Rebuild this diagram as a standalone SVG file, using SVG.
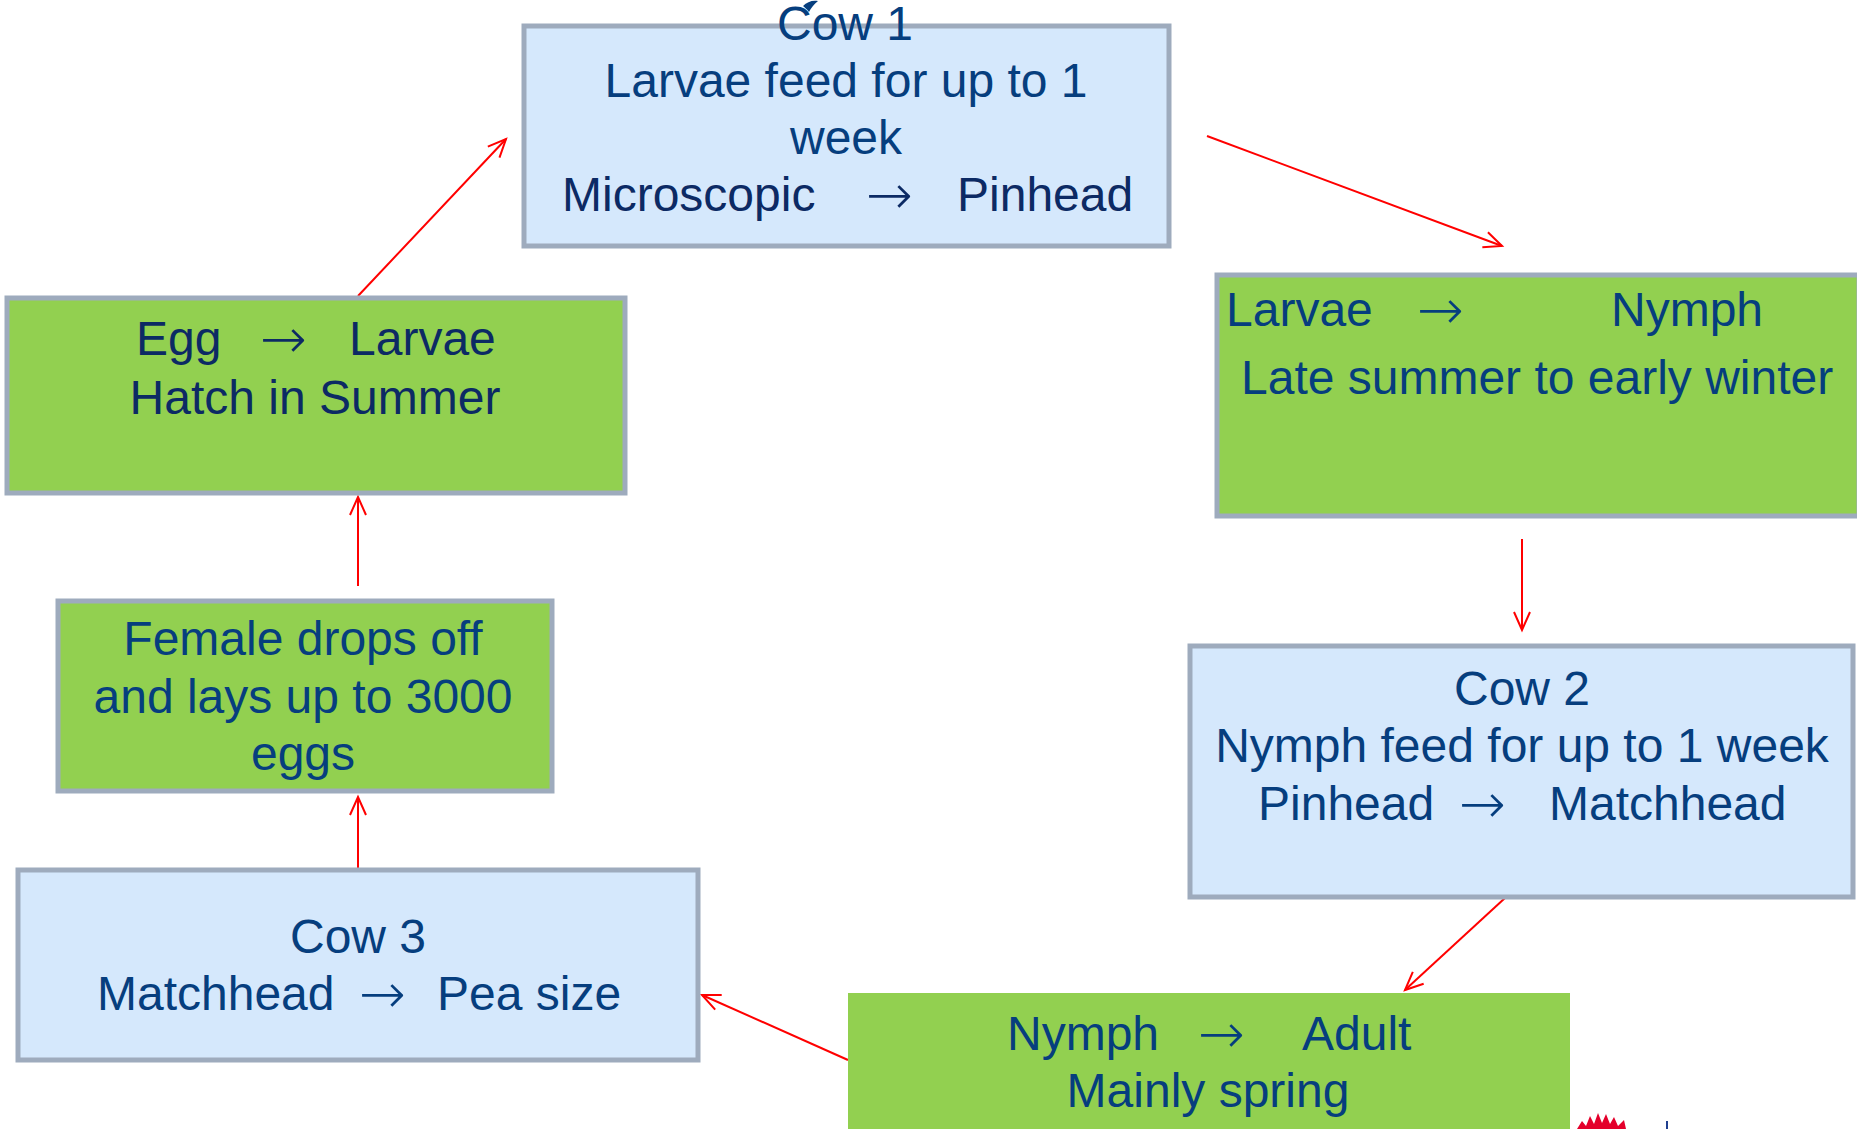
<svg xmlns="http://www.w3.org/2000/svg" width="1857" height="1129" viewBox="0 0 1857 1129">
<style>
.blue{fill:#D5E8FC;stroke:#9EABBD;stroke-width:5}
.green{fill:#92D050;stroke:#9EABBD;stroke-width:5}
.greenb{fill:#92D050;stroke:none}
text{font-family:"Liberation Sans",Arial,sans-serif;font-size:48px;fill:#063E7E}
text.ar{font-family:"DejaVu Sans",sans-serif;font-size:56px;font-weight:200}
.dk{fill:#0C2A64}
.c{text-anchor:middle}
.conn line{stroke:#FF0000;stroke-width:2;fill:none}
</style>
<defs>
<marker id="ah" markerUnits="userSpaceOnUse" markerWidth="24" markerHeight="24" refX="20" refY="10" orient="auto" viewBox="0 0 24 20">
<path d="M2,2 L20,10 L2,18" fill="none" stroke="#FF0000" stroke-width="2"/>
</marker>
</defs>
<rect width="1857" height="1129" fill="#FFFFFF"/>
<g class="conn">
<line x1="1207" y1="136" x2="1502" y2="246" marker-end="url(#ah)"/>
<line x1="1522" y1="539" x2="1522" y2="630" marker-end="url(#ah)"/>
<line x1="1505" y1="898" x2="1405" y2="990" marker-end="url(#ah)"/>
<line x1="848" y1="1060" x2="702" y2="995" marker-end="url(#ah)"/>
<line x1="358" y1="868" x2="358" y2="797" marker-end="url(#ah)"/>
<line x1="358" y1="586" x2="358" y2="497" marker-end="url(#ah)"/>
<line x1="358" y1="296" x2="506" y2="139" marker-end="url(#ah)"/>
</g>
<g id="cow1">
<rect class="blue" x="524" y="26" width="645" height="220"/>
<path d="M803,6 C807,2 812,0 818,1 C814,4 811,8 809,12 C807,9 805,8 803,6 Z" fill="#063E7E"/>
<text class="c" x="845" y="40">Cow 1</text>
<text class="c" x="846" y="97">Larvae feed for up to 1</text>
<text class="c" x="846" y="154">week</text>
<text class="dk" x="562" y="211">Microscopic</text>
<text class="dk ar" x="866" y="214">→</text>
<text class="dk" x="957" y="211">Pinhead</text>
</g>
<g id="larvae-nymph">
<rect class="green" x="1217" y="275" width="642" height="241"/>
<text x="1226" y="326">Larvae</text>
<text class="ar" x="1417" y="329">→</text>
<text x="1611" y="326">Nymph</text>
<text x="1241" y="394">Late summer to early winter</text>
</g>
<g id="cow2">
<rect class="blue" x="1190" y="646" width="663" height="251"/>
<text class="c" x="1522" y="705">Cow 2</text>
<text class="c" x="1522" y="762">Nymph feed for up to 1 week</text>
<text x="1258" y="820">Pinhead</text>
<text class="ar" x="1459" y="823">→</text>
<text x="1549" y="820">Matchhead</text>
</g>
<g id="nymph-adult">
<rect class="greenb" x="848" y="993" width="722" height="140"/>
<text x="1007" y="1050">Nymph</text>
<text class="ar" x="1198" y="1053">→</text>
<text x="1302" y="1050">Adult</text>
<text class="c" x="1208" y="1107">Mainly spring</text>
</g>
<g id="logo">
<path d="M1577,1129 L1582,1121 L1586,1126 L1590,1116 L1594,1124 L1598,1113 L1602,1123 L1606,1114 L1610,1124 L1614,1117 L1618,1126 L1624,1120 L1626,1129 Z" fill="#E4002B"/>
<line x1="1667" y1="1121" x2="1667" y2="1129" stroke="#1F3F8F" stroke-width="2"/>
</g>
<g id="cow3">
<rect class="blue" x="18" y="870" width="680" height="190"/>
<text class="c" x="358" y="953">Cow 3</text>
<text x="97" y="1010">Matchhead</text>
<text class="ar" x="359" y="1013">→</text>
<text x="437" y="1010">Pea size</text>
</g>
<g id="female">
<rect class="green" x="58" y="601" width="494" height="190"/>
<text class="c" x="303" y="655">Female drops off</text>
<text class="c" x="303" y="713">and lays up to 3000</text>
<text class="c" x="303" y="770">eggs</text>
</g>
<g id="egg-larvae">
<rect class="green" x="7" y="298" width="618" height="195"/>
<text class="dk" x="136" y="355">Egg</text>
<text class="dk ar" x="260" y="358">→</text>
<text class="dk" x="349" y="355">Larvae</text>
<text class="c dk" x="315" y="414">Hatch in Summer</text>
</g>
</svg>
